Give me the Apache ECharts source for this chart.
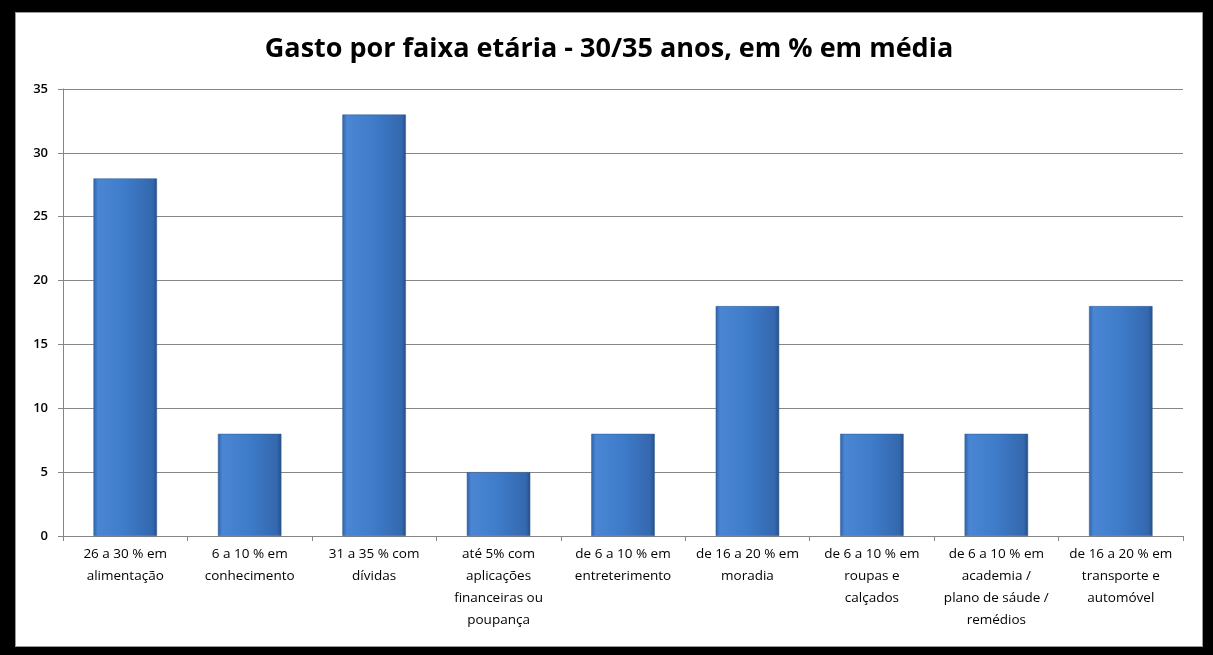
<!DOCTYPE html>
<html>
<head>
<meta charset="utf-8">
<script src="https://cdn.jsdelivr.net/npm/echarts@6/dist/echarts.min.js"></script>
<style>
  html, body { margin: 0; padding: 0; background: #000; }
  #frame {
    position: absolute; left: 15px; top: 12px; width: 1186px; height: 633px;
    background: #fff; border: 1px solid #9a9a9a;
  }
  #chart { width: 100%; height: 100%; }
</style>
</head>
<body>
<div id="frame"><div id="chart"></div></div>
<script>
const titleText = 'Gasto por faixa etária - 30/35 anos, em % em média'
const categories = [
  '26 a 30 % em\nalimentação',
  '6 a 10 % em\nconhecimento',
  '31 a 35 % com\ndívidas',
  'até 5% com\naplicações\nfinanceiras ou\npoupança',
  'de 6 a 10 % em\nentreterimento',
  'de 16 a 20 % em\nmoradia',
  'de 6 a 10 % em\nroupas e\ncalçados',
  'de 6 a 10 % em\nacademia /\nplano de sáude /\nremédios',
  'de 16 a 20 % em\ntransporte e\nautomóvel'
]
const values = [28, 8, 33, 5, 8, 18, 8, 8, 18]
const yTicks = { min: 0, max: 35, interval: 5 }

const chart = echarts.init(document.getElementById('chart'))
const option = {
  animation: false,
  title: {
    text: titleText,
    left: 'center',
    top: 18,
    textStyle: { fontFamily: 'Open Sans', fontWeight: 'bold', fontSize: 27, color: '#000' }
  },
  grid: { left: 47, right: 19, top: 76, bottom: 110 },
  xAxis: {
    type: 'category',
    data: categories,
    axisLine: { lineStyle: { color: '#868686' } },
    axisTick: { show: true, length: 5, lineStyle: { color: '#868686' } },
    axisLabel: {
      interval: 0, color: '#000', fontFamily: 'Open Sans', fontSize: 13.5,
      lineHeight: 22, margin: 7
    }
  },
  yAxis: {
    type: 'value',
    min: yTicks.min, max: yTicks.max, interval: yTicks.interval,
    axisLine: { show: true, lineStyle: { color: '#868686' } },
    axisTick: { show: true, length: 5, lineStyle: { color: '#868686' } },
    splitLine: { lineStyle: { color: '#868686' } },
    axisLabel: { color: '#000', fontFamily: 'Open Sans', fontWeight: 600, fontSize: 13, margin: 15 }
  },
  series: [{
    type: 'bar',
    data: values,
    barWidth: '51%',
    itemStyle: {
      color: new echarts.graphic.LinearGradient(0, 0, 1, 0, [
        { offset: 0, color: '#2f62a6' },
        { offset: 0.07, color: '#4a86d4' },
        { offset: 0.5, color: '#3e7bc9' },
        { offset: 0.93, color: '#3468ae' },
        { offset: 1, color: '#264f88' }
      ]),
      borderColor: '#2f5a95',
      borderWidth: 0.5
    }
  }]
}
chart.setOption(option)
window.addEventListener('resize', () => {
  chart.resize()
})
</script>
</body>
</html>
